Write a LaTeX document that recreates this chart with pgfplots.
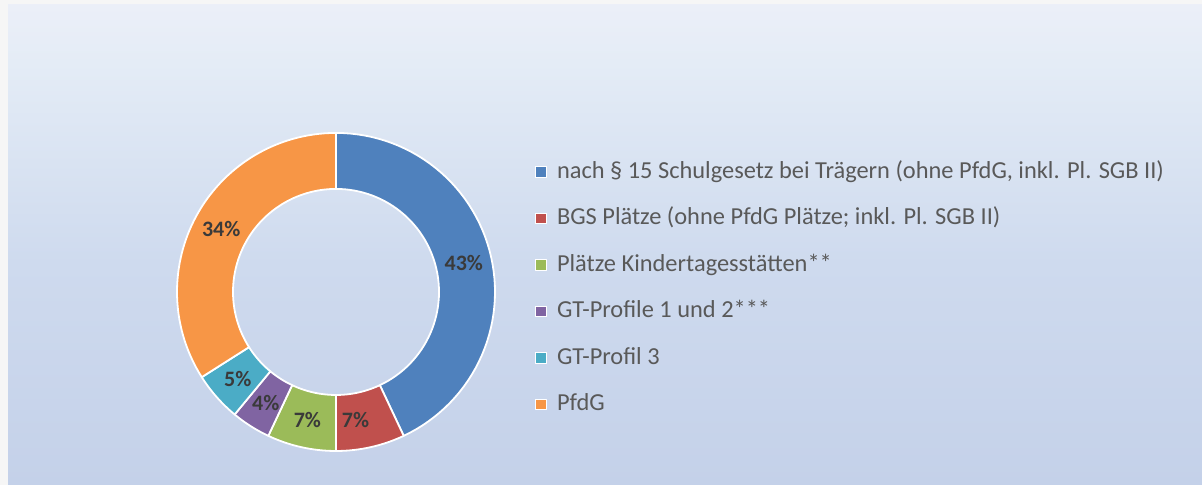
\documentclass[border=0pt]{standalone}
\usepackage{fontspec}
\setmainfont{Carlito}
\usepackage{pgfplots}
\pgfplotsset{compat=1.18}
\definecolor{cA}{HTML}{4F81BD}
\definecolor{cB}{HTML}{C0504D}
\definecolor{cC}{HTML}{9BBB59}
\definecolor{cD}{HTML}{8064A2}
\definecolor{cE}{HTML}{4BACC6}
\definecolor{cF}{HTML}{F79646}
\definecolor{lbl}{HTML}{3A3A3A}
\definecolor{leg}{HTML}{595959}
\definecolor{bgtop}{HTML}{F4F2FB}
\definecolor{bgup}{HTML}{E4ECF6}
\definecolor{bgmid}{HTML}{CEDAEE}
\definecolor{bgbot}{HTML}{C2CFE8}
\definecolor{frame}{HTML}{F6F6F6}
\pgfdeclareverticalshading{bg}{100bp}{color(0bp)=(bgbot); color(20bp)=(bgbot); color(48bp)=(bgmid); color(69bp)=(bgup); color(82bp)=(bgtop); color(100bp)=(bgtop)}
% data (percent)
\def\vA{43}\def\vB{7}\def\vC{7}\def\vD{4}\def\vE{5}\def\vF{34}
\pgfmathsetmacro\aO{90}
\pgfmathsetmacro\aA{\aO-3.6*\vA}
\pgfmathsetmacro\aB{\aA-3.6*\vB}
\pgfmathsetmacro\aC{\aB-3.6*\vC}
\pgfmathsetmacro\aD{\aC-3.6*\vD}
\pgfmathsetmacro\aE{\aD-3.6*\vE}
\pgfmathsetmacro\aF{\aE-3.6*\vF}
\newcommand\seg[3]{%
 \addplot[fill=#1, draw=white, line width=0.9pt, line join=round,
   samples at={0,1,...,60,100,101,...,160}, variable=\t]
 ({ifthenelse(\t<80, 336+159*cos((#2)+((#3)-(#2))*\t/60), 336+103*cos((#3)-((#3)-(#2))*(\t-100)/60))},
  {ifthenelse(\t<80, 193+159*sin((#2)+((#3)-(#2))*\t/60), 193+103*sin((#3)-((#3)-(#2))*(\t-100)/60))}) -- cycle;}
\newcommand\lab[4][0pt]{%
 \node[font=\bfseries\fontsize{11}{13}\selectfont, text=lbl, inner sep=0pt, xshift=#1]
   at (axis cs:{336+131*cos(((#2)+(#3))/2)},{193+131*sin(((#2)+(#3))/2)}) {#4};}
\begin{document}
\begin{tikzpicture}
\useasboundingbox (0,0) rectangle (601pt,242.5pt);
\fill[frame] (0,0) rectangle (601pt,242.5pt);
\shade[shading=bg] (4pt,0) rectangle (601pt,240pt);
\begin{axis}[at={(0,0)}, anchor=south west, scale only axis,
  width=601pt, height=242.5pt, xmin=0, xmax=1202, ymin=0, ymax=485,
  hide axis, clip=false,
  legend style={at={(axis cs:535,325)}, anchor=north west, draw=none, fill=none,
    font=\fontsize{12.2}{14}\selectfont, text=leg, inner sep=0pt,
    row sep=11.25pt,
    nodes={text height=8.5pt, text depth=2.5pt, inner sep=0.5pt},
    /tikz/every odd column/.append style={column sep=4.6pt}},
  legend cell align=left,
  legend image code/.code={\fill[#1, draw=white, line width=0.5pt] (0pt,-2.5pt) rectangle (5.2pt,2.7pt);}]
\seg{cA}{\aO}{\aA}
\seg{cB}{\aA}{\aB}
\seg{cC}{\aB}{\aC}
\seg{cD}{\aC}{\aD}
\seg{cE}{\aD}{\aE}
\seg{cF}{\aE}{\aF}
\lab{\aO}{\aA}{\vA\%}
\lab[-4.5pt]{\aA}{\aB}{\vB\%}
\lab{\aB}{\aC}{\vC\%}
\lab{\aC}{\aD}{\vD\%}
\lab{\aD}{\aE}{\vE\%}
\lab{\aE}{\aF}{\vF\%}
\legend{{nach § 15 Schulgesetz bei Trägern (ohne PfdG, inkl. Pl. SGB II)},
  {BGS Plätze (ohne PfdG Plätze; inkl. Pl. SGB II)},
  {Plätze Kindertagesstätten**},
  {GT-Profile 1 und 2***},
  {GT-Profil 3},
  {PfdG}}
\end{axis}
\end{tikzpicture}
\end{document}
